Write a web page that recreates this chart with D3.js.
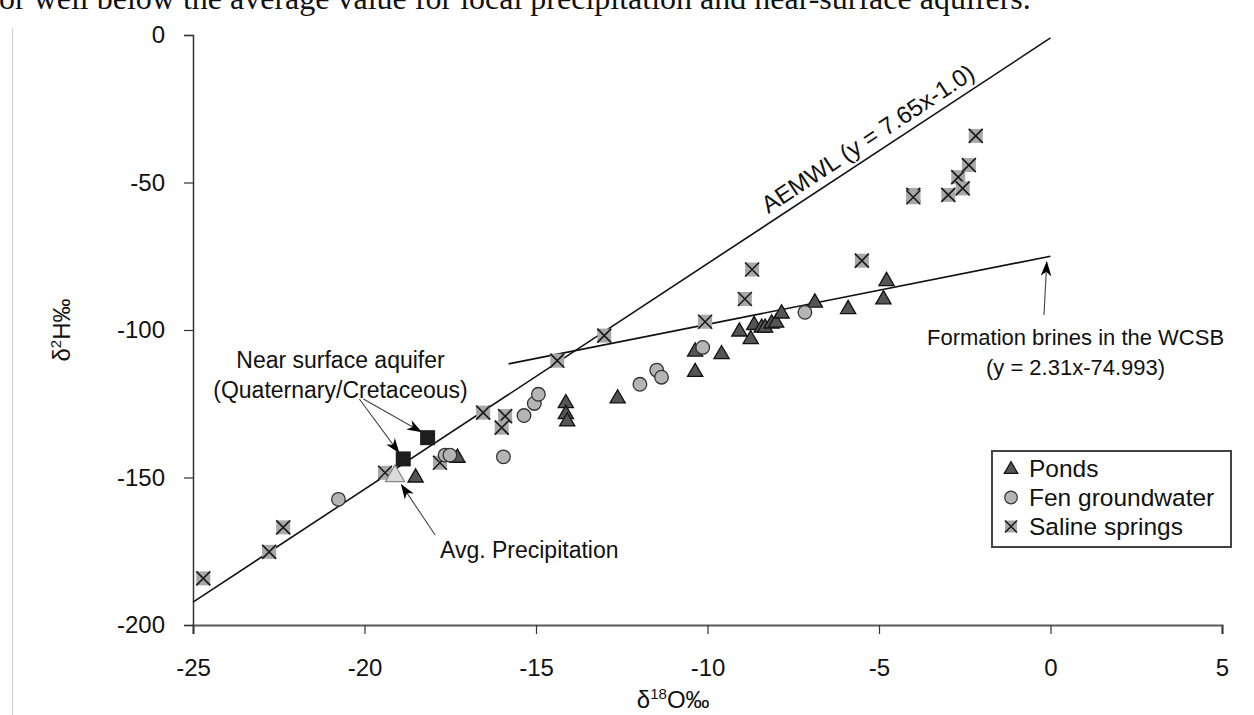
<!DOCTYPE html>
<html>
<head>
<meta charset="utf-8">
<script src="https://cdn.jsdelivr.net/npm/d3@7"></script>
<style>
  body { margin: 0; background: #fff; }
  svg { display: block; font-family: "Liberation Sans", Arial, sans-serif; }
</style>
</head>
<body>
<div id="chart"></div>
<script>
// values (d18O, d2H)
const ponds = [
  [-18.51, -149.7], [-17.29, -143.0], [-14.13, -124.5], [-14.13, -128.2], [-14.09, -130.7],
  [-12.62, -122.9], [-10.36, -107.0], [-10.36, -113.9], [-9.59, -107.9], [-9.07, -100.2],
  [-8.74, -102.8], [-8.64, -98.0], [-8.42, -98.9], [-8.32, -98.9], [-8.13, -97.5],
  [-8.0, -97.2], [-7.84, -94.1], [-6.87, -90.4], [-5.9, -92.6], [-4.87, -89.3], [-4.78, -83.1]
];
const fen = [
  [-20.76, -157.4], [-17.65, -142.4], [-17.51, -142.4], [-15.95, -143.0], [-15.35, -129.0],
  [-15.05, -124.9], [-14.93, -121.8], [-11.97, -118.4], [-11.48, -113.6], [-11.34, -116.0],
  [-10.14, -105.9], [-7.16, -94.0]
];
const saline = [
  [-24.7, -184.2], [-22.78, -175.2], [-22.37, -166.9], [-19.4, -148.4], [-17.8, -145.0],
  [-16.54, -128.0], [-15.9, -129.2], [-16.0, -133.1], [-14.38, -110.4], [-13.01, -101.9],
  [-10.07, -97.2], [-8.91, -89.5], [-8.7, -79.5], [-5.5, -76.5], [-4.0, -54.2], [-4.0, -55.0],
  [-2.98, -54.2], [-2.69, -48.2], [-2.56, -52.0], [-2.38, -44.1], [-2.18, -34.2]
];
const avgPrecip = [[-19.11, -149.2]];
const nearSurface = [[-18.87, -143.7], [-18.16, -136.5]];

const xTicks = [-25, -20, -15, -10, -5, 0, 5];
const yTicks = [0, -50, -100, -150, -200];

// regression lines: [slope, intercept, xStart, xEnd]
const aemwlLine = [7.65, -1.0, -25, 0];
const brineLine = [2.31, -74.993, -15.8, 0];

// arrows [x1, y1, x2, y2] in data units
const arrows = [
  [-20.15, -123.4, -19.0, -141.5],
  [-20.03, -123.4, -18.35, -134.5],
  [-17.94, -169.5, -18.92, -152.5],
  [-0.19, -94.9, -0.11, -77.0]
];

const legendItems = ["Ponds", "Fen groundwater", "Saline springs"];

const W = 1254, H = 715;
const margin = { top: 35, right: 32, bottom: 90, left: 193 };
const width = W - margin.left - margin.right,
      height = H - margin.top - margin.bottom;

const root = d3.select("#chart").append("svg")
  .attr("width", W).attr("height", H);

// page remnants: bottom of the paragraph above and the page edge
root.append("text")
  .attr("x", -1).attr("y", 9)
  .attr("font-family", "'Liberation Serif', 'Times New Roman', serif")
  .attr("font-size", 32)
  .attr("fill", "#111")
  .text("or well below the average value for local precipitation and near-surface aquifers.");
root.append("line")
  .attr("x1", 12.5).attr("x2", 12.5).attr("y1", 28).attr("y2", H)
  .attr("stroke", "#d0d0d0").attr("stroke-width", 1);

const defs = root.append("defs");
defs.append("marker")
  .attr("id", "head")
  .attr("markerUnits", "userSpaceOnUse")
  .attr("viewBox", "0 0 14 10")
  .attr("refX", 13).attr("refY", 5)
  .attr("markerWidth", 15).attr("markerHeight", 11)
  .attr("orient", "auto")
  .append("path")
  .attr("d", "M0,0 L14,5 L0,10 L4,5 Z")
  .attr("fill", "#000");

const svg = root.append("g")
  .attr("transform", `translate(${margin.left},${margin.top})`);

const x = d3.scaleLinear().domain([-25, 5]).range([0, width]);
const y = d3.scaleLinear().domain([-200, 0]).range([height, 0]);

// axes
const xAxis = svg.append("g")
  .attr("transform", `translate(0,${height})`)
  .call(d3.axisBottom(x).tickValues(xTicks).tickSizeOuter(0).tickSize(9).tickPadding(25)
    .tickFormat(d => String(d)));
const yAxis = svg.append("g")
  .call(d3.axisLeft(y).tickValues(yTicks).tickSizeOuter(0).tickSize(9).tickPadding(19)
    .tickFormat(d => String(d)));

xAxis.select(".domain").attr("stroke", "#5a5a5a").attr("stroke-width", 2.2);
yAxis.select(".domain").attr("stroke", "#333").attr("stroke-width", 1.5);
svg.selectAll(".tick line").attr("stroke", "#333").attr("stroke-width", 1.2);
svg.selectAll(".tick text")
  .attr("font-family", "'Liberation Sans', Arial, sans-serif")
  .attr("font-size", 24).attr("fill", "#111");

// axis titles
const yTitle = svg.append("text")
  .attr("transform", `translate(${70 - margin.left},${y(-100)}) rotate(-90)`)
  .attr("text-anchor", "middle")
  .attr("font-size", 24).attr("fill", "#111");
yTitle.append("tspan").text("δ");
yTitle.append("tspan").attr("font-size", 15).attr("dy", -9).text("2");
yTitle.append("tspan").attr("dy", 9).text("H‰");

const xTitle = svg.append("text")
  .attr("x", x(-11.0)).attr("y", height + 83)
  .attr("text-anchor", "middle")
  .attr("font-size", 24).attr("fill", "#111");
xTitle.append("tspan").text("δ");
xTitle.append("tspan").attr("font-size", 15).attr("dy", -9).text("18");
xTitle.append("tspan").attr("dy", 9).text("O‰");

// regression lines
function linePts(l) {
  return [[l[2], l[0] * l[2] + l[1]], [l[3], l[0] * l[3] + l[1]]];
}
const lineGen = d3.line().x(d => x(d[0])).y(d => y(d[1]));
[aemwlLine, brineLine].forEach(l => {
  svg.append("path")
    .datum(linePts(l))
    .attr("d", lineGen)
    .attr("fill", "none")
    .attr("stroke", "#111")
    .attr("stroke-width", 1.6);
});

// AEMWL label along the line
const a0 = linePts(aemwlLine);
const ang = Math.atan2(y(a0[1][1]) - y(a0[0][1]), x(a0[1][0]) - x(a0[0][0])) * 180 / Math.PI;
const lx = -8.1, ly = aemwlLine[0] * lx + aemwlLine[1];
svg.append("text")
  .attr("transform", `translate(${x(lx)},${y(ly)}) rotate(${ang}) translate(0,-8)`)
  .attr("font-size", 24).attr("fill", "#111")
  .text("AEMWL (y = 7.65x-1.0)");

// arrows
svg.selectAll(".arrow")
  .data(arrows)
  .enter().append("line")
  .attr("class", "arrow")
  .attr("x1", d => x(d[0])).attr("y1", d => y(d[1]))
  .attr("x2", d => x(d[2])).attr("y2", d => y(d[3]))
  .attr("stroke", "#444").attr("stroke-width", 1.1)
  .attr("marker-end", "url(#head)");

// symbols
const tri = d3.symbol().type(d3.symbolTriangle);
function drawSaline(g, cx, cy, s) {
  g.append("rect")
    .attr("x", cx - s / 2).attr("y", cy - s / 2)
    .attr("width", s).attr("height", s)
    .attr("fill", "#a8a8a8");
  g.append("path")
    .attr("d", `M${cx - s / 2},${cy - s / 2}L${cx + s / 2},${cy + s / 2}M${cx + s / 2},${cy - s / 2}L${cx - s / 2},${cy + s / 2}`)
    .attr("stroke", "#1a1a1a").attr("stroke-width", 1.6);
}

const sg = svg.append("g");
saline.forEach(d => drawSaline(sg, x(d[0]), y(d[1]), 14));

svg.append("g").selectAll("path")
  .data(ponds)
  .enter().append("path")
  .attr("d", tri.size(100))
  .attr("transform", d => `translate(${x(d[0])},${y(d[1]) + 1})`)
  .attr("fill", "#555")
  .attr("stroke", "#111")
  .attr("stroke-width", 1.3);

svg.append("g").selectAll("circle")
  .data(fen)
  .enter().append("circle")
  .attr("cx", d => x(d[0]))
  .attr("cy", d => y(d[1]))
  .attr("r", 6.8)
  .attr("fill", "#b5b5b5")
  .attr("stroke", "#333")
  .attr("stroke-width", 1.3);

svg.append("g").selectAll("path")
  .data(avgPrecip)
  .enter().append("path")
  .attr("d", d3.symbol().type(d3.symbolTriangle).size(160))
  .attr("transform", d => `translate(${x(d[0])},${y(d[1]) + 1})`)
  .attr("fill", "#dadada")
  .attr("stroke", "#888")
  .attr("stroke-width", 1.2);

svg.append("g").selectAll("rect")
  .data(nearSurface)
  .enter().append("rect")
  .attr("x", d => x(d[0]) - 7.5)
  .attr("y", d => y(d[1]) - 7.5)
  .attr("width", 15).attr("height", 15)
  .attr("fill", "#1e1e1e");

// annotation text
function note(lines, xv, yv, anchor, size) {
  const t = svg.append("text")
    .attr("text-anchor", anchor)
    .attr("font-size", size).attr("fill", "#111");
  lines.forEach((s, i) => {
    t.append("tspan").attr("x", x(xv)).attr("y", y(yv) + i * 30).text(s);
  });
}
note(["Near surface aquifer", "(Quaternary/Cretaceous)"], -20.7, -112.9, "middle", 23);
note(["Avg. Precipitation"], -17.8, -177.3, "start", 23);
note(["Formation brines in the WCSB", "(y = 2.31x-74.993)"], 0.73, -105, "middle", 22);

// legend
const leg = root.append("g").attr("transform", "translate(992,451)");
leg.append("rect")
  .attr("width", 239).attr("height", 96)
  .attr("fill", "#fff")
  .attr("stroke", "#444").attr("stroke-width", 2);
legendItems.forEach((name, i) => {
  const cy = 17.5 + i * 29;
  if (i === 0) {
    leg.append("path").attr("d", tri.size(80))
      .attr("transform", `translate(19,${cy + 1})`)
      .attr("fill", "#555").attr("stroke", "#111").attr("stroke-width", 1.2);
  } else if (i === 1) {
    leg.append("circle").attr("cx", 19).attr("cy", cy).attr("r", 6.3)
      .attr("fill", "#b5b5b5").attr("stroke", "#333").attr("stroke-width", 1.2);
  } else {
    drawSaline(leg, 19, cy, 12);
  }
  leg.append("text")
    .attr("x", 37).attr("y", cy + 8.5)
    .attr("font-size", 24.5).attr("fill", "#111")
    .text(name);
});
</script>
</body>
</html>
